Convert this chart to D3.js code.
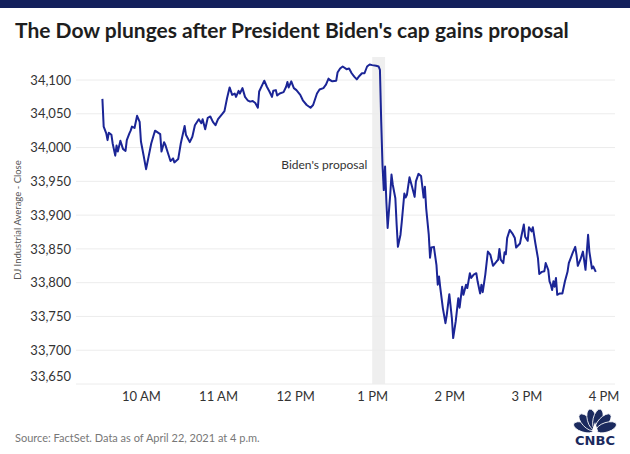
<!DOCTYPE html>
<html>
<head>
<meta charset="utf-8">
<script src="https://cdn.jsdelivr.net/npm/d3@7"></script>
<style>
  html, body { margin: 0; padding: 0; background: #fff; }
  svg { display: block; }
</style>
</head>
<body>
<svg id="chart" width="630" height="454"></svg>
<script>
// ---------- DATA ----------
const chartTitle = "The Dow plunges after President Biden's cap gains proposal";
const yAxisTitle = "DJ Industrial Average - Close";
const sourceText = "Source: FactSet. Data as of April 22, 2021 at 4 p.m.";
const annotationLabel = "Biden's proposal";
const annotationWindow = ["13:00", "13:10"];

const xTickTimes  = ["10:00", "11:00", "12:00", "13:00", "14:00", "15:00", "16:00"];
const xTickLabels = ["10 AM", "11 AM", "12 PM", "1 PM", "2 PM", "3 PM", "4 PM"];
const yTickValues = [34100, 34050, 34000, 33950, 33900, 33850, 33800, 33750, 33700, 33650];

const times = [
  "9:30","9:31","9:33","9:34","9:35","9:37","9:38","9:40","9:41","9:42","9:44","9:46","9:48","9:49","9:51","9:52","9:53","9:55","9:57","9:59",
  "10:00","10:02","10:04","10:06","10:08","10:10","10:11","10:15","10:16","10:18","10:19","10:21","10:23","10:25","10:26","10:29","10:31","10:34","10:35","10:38",
  "10:40","10:42","10:45","10:47","10:48","10:50","10:52","10:54","10:56","10:58","11:00","11:03","11:05",
  "11:07","11:09","11:11","11:13","11:14","11:16","11:17","11:19","11:21","11:23","11:25","11:27","11:29","11:31","11:32","11:36","11:38","11:40","11:42","11:43",
  "11:45","11:46","11:48","11:51","11:53","11:54","11:55","11:57","11:59","12:01","12:04","12:06","12:09","12:12","12:14","12:17","12:19","12:22","12:24","12:26",
  "12:27","12:29","12:32","12:33","12:35","12:37","12:40","12:42",
  "12:44","12:46","12:48","12:50","12:52","12:54","12:56","12:58","13:00","13:03","13:05","13:06","13:07","13:08","13:09","13:10","13:11","13:12","13:14","13:15",
  "13:16","13:18","13:19","13:20","13:22","13:23","13:25","13:26","13:27","13:29","13:31","13:33","13:34","13:36","13:38","13:39","13:40","13:41","13:42","13:44",
  "13:45","13:46","13:48","13:50","13:51","13:52","13:53","13:55","13:57","13:58","14:00","14:02","14:03","14:05","14:07","14:08","14:10","14:11","14:13","14:14",
  "14:16","14:17","14:19",
  "14:21","14:22","14:24","14:25","14:26","14:28","14:30","14:32","14:34","14:37","14:38","14:39","14:40","14:42","14:43","14:44","14:45","14:47","14:49","14:51",
  "14:52","14:55","14:56","14:58","14:59","15:01","15:02","15:04","15:05","15:07","15:09","15:10","15:12","15:14","15:15","15:17","15:18","15:19","15:20","15:21",
  "15:22","15:23","15:24","15:26","15:28","15:30","15:32","15:33","15:35","15:36","15:38","15:39","15:40","15:42","15:44","15:46","15:48","15:49","15:51","15:52",
  "15:54"
];

const values = [
  34072,34031,34021,34011,34022,34019,34006,33988,34003,33994,34010,33998,33995,34011,34021,34025,34031,34029,34047,34038,
  34009,33989,33968,33987,34006,34019,34025,34020,33994,34008,34004,33992,33980,33984,33978,33983,34006,34032,34019,34008,
  34016,34033,34042,34036,34042,34027,34044,34046,34038,34033,34042,34049,34054,
  34073,34089,34078,34080,34075,34084,34080,34088,34075,34070,34068,34069,34066,34059,34083,34099,34090,34083,34075,34084,
  34085,34077,34080,34082,34090,34097,34089,34098,34088,34085,34078,34070,34063,34059,34063,34080,34086,34088,34093,34102,
  34100,34098,34099,34111,34117,34120,34116,34117,
  34110,34105,34101,34106,34110,34110,34120,34123,34122,34121,34120,34115,34038,33974,33937,33972,33920,33881,33930,33960,
  33945,33925,33886,33853,33871,33890,33932,33926,33930,33956,33942,33927,33950,33961,33958,33942,33926,33942,33910,33871,
  33837,33852,33853,33826,33797,33809,33792,33762,33740,33752,33783,33747,33718,33743,33777,33763,33794,33782,33797,33792,
  33814,33807,33812,
  33814,33802,33784,33797,33786,33812,33846,33841,33825,33832,33834,33850,33834,33829,33845,33842,33866,33878,33873,33866,
  33852,33858,33868,33886,33868,33862,33882,33876,33882,33858,33836,33813,33816,33817,33829,33819,33802,33797,33789,33802,
  33794,33807,33782,33784,33784,33802,33816,33829,33839,33844,33853,33841,33825,33834,33846,33819,33871,33846,33821,33824,
  33816
];

// ---------- LAYOUT ----------
const W = 630, H = 454;
const plot = { left: 76, right: 615, top: 57, bottom: 384 };
const parseTime = d3.timeParse("%H:%M");
const data = times.map((t, i) => ({ t: parseTime(t), v: values[i] }));

const x = d3.scaleTime()
  .domain([parseTime("9:30"), parseTime("16:00")])
  .range([102.4, 603.5]);
const y = d3.scaleLinear()
  .domain([33650, 34100])
  .range([plot.bottom, 80]);

const svg = d3.select("#chart");
const FONT = "Lato, 'Open Sans', sans-serif";

// top bar
svg.append("rect").attr("x", 0).attr("y", 0).attr("width", W).attr("height", 8).attr("fill", "#13205c");

// title
svg.append("text")
  .attr("x", 15).attr("y", 38)
  .attr("font-family", FONT).attr("font-weight", 700).attr("font-size", 21)
  .attr("fill", "#1e1e1e")
  .text(chartTitle);

// annotation band
svg.append("rect")
  .attr("x", x(parseTime(annotationWindow[0])))
  .attr("y", plot.top)
  .attr("width", x(parseTime(annotationWindow[1])) - x(parseTime(annotationWindow[0])))
  .attr("height", plot.bottom - plot.top)
  .attr("fill", "#efefef");

// gridlines
svg.append("g").selectAll("line").data(yTickValues).join("line")
  .attr("x1", plot.left).attr("x2", plot.right)
  .attr("y1", d => y(d)).attr("y2", d => y(d))
  .attr("stroke", "#ececec").attr("stroke-width", 1);

// y axis
const yAxis = svg.append("g")
  .attr("transform", `translate(${plot.left},0)`)
  .call(d3.axisLeft(y).tickValues(yTickValues).tickFormat(d3.format(",")).tickSize(0).tickPadding(5));
yAxis.select(".domain").remove();
yAxis.selectAll("text")
  .attr("font-family", FONT).attr("font-size", 13).attr("fill", "#333");
// bottom label sits slightly above its baseline in the original
yAxis.selectAll(".tick").filter(d => d === 33650).select("text").attr("dy", "-0.28em");

// x axis
const xAxis = svg.append("g")
  .attr("transform", `translate(0,${plot.bottom})`)
  .call(d3.axisBottom(x)
    .tickValues(xTickTimes.map(parseTime))
    .tickFormat((d, i) => xTickLabels[i])
    .tickSize(0).tickPadding(8));
xAxis.select(".domain").remove();
xAxis.selectAll("text")
  .attr("font-family", FONT).attr("font-size", 13).attr("fill", "#333");

// y axis title
svg.append("text")
  .attr("transform", `translate(21,${(y(34100) + y(33650)) / 2 - 12}) rotate(-90)`)
  .attr("text-anchor", "middle")
  .attr("font-family", FONT).attr("font-size", 9.5).attr("fill", "#555")
  .text(yAxisTitle);

// annotation label
svg.append("text")
  .attr("x", x(parseTime(annotationWindow[0])) - 5)
  .attr("y", y(33975))
  .attr("dy", "0.35em")
  .attr("text-anchor", "end")
  .attr("font-family", FONT).attr("font-size", 12).attr("fill", "#333")
  .text(annotationLabel);

// line
svg.append("path")
  .datum(data)
  .attr("fill", "none")
  .attr("stroke", "#1b2596")
  .attr("stroke-width", 2)
  .attr("stroke-linejoin", "round")
  .attr("d", d3.line().x(d => x(d.t)).y(d => y(d.v)));

// source
svg.append("text")
  .attr("x", 15).attr("y", 442)
  .attr("font-family", FONT).attr("font-size", 11).attr("fill", "#777")
  .text(sourceText);

// CNBC logo (simplified peacock)
const logo = svg.append("g").attr("transform", "translate(595,431)");
const feathers = [-72, -43, -14, 14, 43, 72];
logo.selectAll("ellipse").data(feathers).join("ellipse")
  .attr("cx", 0).attr("cy", -12)
  .attr("rx", 4.8).attr("ry", 10.5)
  .attr("transform", d => `rotate(${d})`)
  .attr("fill", "#1b2a5e")
  .attr("stroke", "#fff").attr("stroke-width", 0.8);
logo.append("path")
  .attr("d", "M-3,0 L0,-9 L3,0 Z")
  .attr("fill", "#fff");
logo.append("text")
  .attr("x", 0).attr("y", 14)
  .attr("text-anchor", "middle")
  .attr("font-family", "'DejaVu Sans Condensed', 'Liberation Sans Narrow', sans-serif")
  .attr("font-weight", 700).attr("font-size", 12.5)
  .attr("fill", "#1b2a5e")
  .attr("textLength", 40).attr("lengthAdjust", "spacingAndGlyphs")
  .text("CNBC");
</script>
</body>
</html>
